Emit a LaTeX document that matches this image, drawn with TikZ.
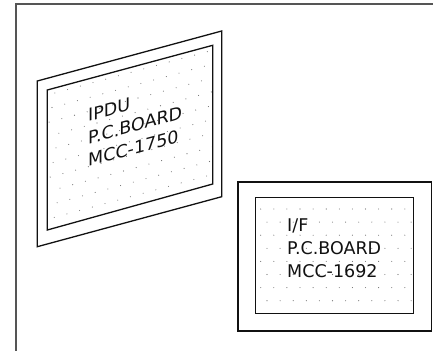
\documentclass[tikz,border=0pt]{standalone}
\usepackage{fontspec}
\setmainfont{DejaVu Sans}
\usepackage{tikz}
\definecolor{ink}{HTML}{111111}
\definecolor{wall}{HTML}{555555}
\definecolor{speck}{HTML}{707070}
\tikzset{
  edge/.style={draw=ink, line width=1.3pt},
  wallline/.style={draw=wall, line width=2pt},
  lbl/.style={font=\fontsize{17.5}{22.5}\selectfont, text=ink, inner sep=0pt, anchor=base west},
  dot/.style={fill=speck},
}
\begin{document}
\begin{tikzpicture}[x=1pt,y=-1pt]
  \useasboundingbox (0,0) rectangle (433,351);
  % cabinet wall
  \draw[wallline] (433,3.5) -- (15.5,3.5) -- (15.5,351);

  % IPDU board (seen at an angle)
  \coordinate (ipduTL) at (47.3,90);
  \coordinate (ipduTR) at (212.7,45.3);
  \coordinate (ipduBR) at (212.7,184);
  \coordinate (ipduBL) at (47.3,230);
  \begin{scope}
    \clip (ipduTL) -- (ipduTR) -- (ipduBR) -- (ipduBL) -- cycle;
    \foreach \k in {0,...,10} {
      \foreach \j in {-3,...,14} {
        \pgfmathsetmacro\dx{47+3.2+2.9*(6-\k)+12.7*\j}
        \pgfmathsetmacro\dy{95.1+13.8*\k-0.271*(\dx-47)}
        \fill[dot] (\dx,\dy) circle (0.55);
      }}
  \end{scope}
  \draw[edge] (37.3,81) -- (221.7,31) -- (221.7,196.7) -- (37.3,246.7) -- cycle;
  \draw[edge] (ipduTL) -- (ipduTR) -- (ipduBR) -- (ipduBL) -- cycle;
  \node[lbl, yslant=0.271] (ipdu1) at (88,121.5) {IPDU};
  \node[lbl, yslant=0.271] (ipdu2) at (88,144.2) {P.C.BOARD};
  \node[lbl, yslant=0.271] (ipdu3) at (88,167) {MCC-1750};

  % I/F board
  \begin{scope}
    \clip (255.3,197.7) rectangle (413.3,313.3);
    \foreach \k in {0,...,7} {
      \foreach \j in {-1,...,12} {
        \pgfmathsetmacro\dx{260.7+13.1*\j+6.3*mod(\k,2)}
        \fill[dot] (\dx,209+13.1*\k) circle (0.55);
      }}
  \end{scope}
  \draw[edge] (238,182) rectangle (431.7,331);
  \draw[edge] (255.3,197.7) rectangle (413.3,313.3);
  \node[lbl] (if1) at (287,231.7) {I/F};
  \node[lbl] (if2) at (287,254.4) {P.C.BOARD};
  \node[lbl] (if3) at (287,277.2) {MCC-1692};
\end{tikzpicture}
\end{document}
